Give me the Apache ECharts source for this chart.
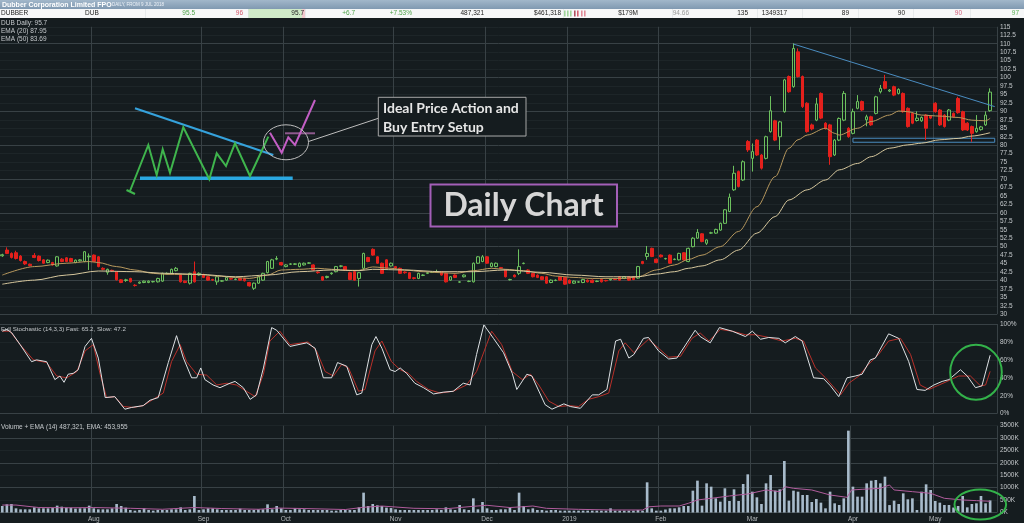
<!DOCTYPE html>
<html><head><meta charset="utf-8">
<script src="https://cdn.jsdelivr.net/npm/echarts@6/dist/echarts.min.js"></script>
<style>html,body{margin:0;padding:0;background:#151c1f;}#c{width:1024px;height:523px;}</style>
</head><body><div id="c"></div>
<script>
// ---------- data ----------
const monthLabels = ['Jul','Aug','Sep','Oct','Nov','Dec','2019','Feb','Mar','Apr','May'];
const monthBars   = [20,24,18,24,20,18,20,20,22,18,14];

// [open, close, low, high]
const candles = [
[47.3,47.6,47.0,47.9],[49.0,48.0,47.8,49.8],[48.0,46.8,46.5,48.3],[48.2,46.5,46.2,48.8],[47.2,45.9,45.6,47.5],
[45.6,44.9,44.6,45.9],[44.8,44.4,44.2,45.0],[47.4,46.8,46.6,48.1],[47.2,45.9,45.6,47.4],[46.1,45.1,44.9,46.3],
[45.3,46.0,45.1,46.2],[45.3,44.6,44.4,45.5],[44.3,47.0,44.1,47.2],[46.3,45.6,45.4,46.6],[46.7,45.6,45.4,46.9],
[46.5,45.6,45.4,46.7],[45.3,46.0,45.1,46.2],[45.8,46.1,45.6,46.3],[45.6,48.5,45.4,48.7],[47.0,47.2,43.1,48.0],
[47.5,45.6,45.4,47.7],[47.0,44.1,43.9,47.2],[43.6,43.3,43.0,43.9],[42.4,43.3,41.7,43.5],[43.0,42.8,42.5,43.2],
[42.6,40.2,40.0,42.8],[40.2,39.4,39.2,40.4],[40.0,40.2,39.6,40.5],[40.6,39.6,39.4,40.8],[38.6,38.5,38.2,38.9],
[39.2,39.5,39.0,39.7],[39.4,39.8,39.2,40.0],[39.4,39.8,39.2,40.0],[39.6,39.7,39.4,39.9],[39.6,40.6,39.4,40.8],
[39.8,42.1,39.6,42.3],[42.0,42.1,41.8,42.4],[42.1,43.3,41.9,43.5],[42.9,43.6,42.7,44.0],[41.6,39.6,39.4,41.8],
[39.8,39.4,39.2,40.0],[39.2,42.1,38.8,42.3],[42.6,39.6,39.4,45.6],[41.6,42.1,41.4,42.4],[41.8,40.9,40.7,42.0],
[41.1,40.1,39.9,41.3],[40.3,40.1,39.9,40.5],[39.6,41.1,38.7,41.3],[39.8,39.9,39.6,40.1],[40.1,40.9,39.9,41.1],
[40.6,40.4,40.2,40.8],[40.3,40.4,40.1,40.6],[40.6,40.1,39.9,40.8],[40.6,39.9,39.7,40.8],[39.4,38.4,38.2,39.6],
[37.7,39.2,37.2,39.4],[39.2,41.1,39.0,41.3],[40.1,42.1,39.9,42.3],[42.3,45.6,42.1,45.8],[43.6,46.1,43.4,46.4],
[46.3,46.5,46.0,47.2],[45.3,44.6,44.4,45.5],[44.1,44.6,43.9,44.8],[44.8,44.9,44.6,45.1],[44.8,44.9,44.6,45.1],
[44.1,45.1,43.9,45.3],[44.6,45.1,44.4,45.3],[45.1,45.2,44.9,45.4],[44.6,43.1,42.9,44.8],[42.5,42.3,42.0,42.7],
[41.1,40.1,39.9,41.3],[40.9,41.2,40.6,41.4],[42.0,42.2,41.7,42.4],[42.6,44.1,42.4,44.3],[44.2,44.3,43.9,44.5],
[44.1,43.1,42.9,44.3],[42.3,40.3,40.1,42.6],[42.6,40.1,39.9,42.8],[40.6,42.3,38.2,42.5],[43.6,48.0,43.4,48.2],
[46.8,45.6,45.4,47.0],[49.2,47.5,47.3,49.5],[47.0,45.1,44.9,47.2],[45.1,42.1,41.9,45.3],[46.1,43.6,43.4,46.3],
[44.3,45.1,44.1,45.3],[44.1,43.6,43.4,44.3],[43.6,42.1,41.9,43.8],[42.5,42.3,42.0,42.7],[42.3,40.6,40.4,42.5],
[40.8,40.6,40.3,41.0],[40.6,42.1,40.4,42.3],[41.5,41.6,41.3,41.8],[42.1,42.3,41.9,42.5],[42.4,42.5,42.2,42.7],
[42.5,42.6,42.3,43.2],[42.6,41.6,41.4,42.8],[42.1,39.6,39.4,42.3],[40.1,41.1,39.9,41.3],[41.6,40.9,40.7,41.8],
[39.5,39.6,39.3,39.8],[41.1,41.6,40.9,41.8],[39.7,39.8,39.5,40.0],[39.6,45.1,39.4,45.3],[45.1,47.0,44.9,47.2],
[45.6,47.0,45.4,47.5],[47.0,45.1,44.9,47.2],[44.1,45.1,43.9,45.3],[44.1,45.1,43.9,45.3],[43.8,43.6,43.4,44.0],
[43.1,41.1,40.9,43.3],[40.2,40.3,40.0,40.5],[41.6,41.1,40.9,41.8],[42.1,44.1,41.6,49.2],[45.0,45.1,44.8,45.3],
[43.1,42.1,41.9,43.3],[42.1,41.1,40.9,42.3],[41.6,40.9,40.7,41.8],[41.1,40.3,40.1,41.3],[41.1,39.2,39.0,41.3],
[39.4,40.1,39.2,40.3],[40.0,40.1,39.8,40.3],[41.1,40.1,39.9,41.3],[40.9,38.9,38.7,41.1],[40.1,39.2,39.0,40.3],
[39.2,39.8,39.0,40.0],[39.5,39.6,39.3,39.8],[39.4,40.3,39.2,40.5],[40.1,39.6,39.4,40.3],[40.1,39.4,39.2,40.3],
[39.7,39.8,39.5,40.0],[40.3,39.6,39.4,40.5],[40.0,39.9,39.7,40.2],[40.2,40.4,40.0,40.6],[40.5,40.3,40.1,40.7],
[41.1,40.1,39.9,41.3],[40.6,41.1,40.4,41.3],[41.1,40.1,39.9,41.3],[41.1,40.3,40.1,41.3],[40.7,44.1,40.5,44.3],
[45.6,45.0,44.8,45.8],[47.1,48.0,46.1,50.2],[49.5,47.1,46.9,49.7],[46.3,45.3,45.1,46.5],[47.5,47.0,46.8,47.7],
[46.4,46.5,46.2,46.7],[47.5,45.1,44.9,47.7],[46.2,46.3,46.0,46.5],[46.1,48.0,45.9,48.2],[48.2,46.1,45.9,48.4],
[45.6,49.5,45.4,49.7],[50.0,52.5,49.8,52.8],[52.5,54.2,52.3,55.2],[53.8,51.5,51.3,54.0],[51.0,52.0,50.5,52.2],
[54.0,54.1,53.8,54.4],[54.0,55.1,53.8,55.3],[54.9,56.9,54.7,57.1],[56.9,60.9,56.7,61.1],[60.4,64.6,60.2,65.7],
[66.8,71.7,66.5,73.9],[72.2,67.8,67.5,72.5],[69.7,75.1,69.4,75.5],[81.1,78.6,78.0,81.5],[76.1,78.1,72.2,80.5],
[81.5,77.1,76.8,81.8],[77.1,73.2,72.8,77.4],[76.1,82.5,75.8,82.8],[84.0,90.2,83.7,94.5],[87.2,81.5,81.2,87.5],
[82.5,86.9,78.6,87.2],[89.9,99.3,89.6,99.6],[100.3,95.8,95.5,100.6],[97.3,108.6,97.0,110.1],[107.6,100.3,100.0,108.6],
[100.3,91.4,91.0,100.6],[92.4,84.0,83.7,92.7],[86.0,84.8,84.4,86.4],[87.4,92.2,87.1,94.0],[95.3,88.0,87.7,95.6],
[86.5,85.0,84.6,86.8],[86.0,76.6,74.2,86.3],[77.1,81.5,76.8,81.8],[81.5,87.9,81.2,88.2],[87.4,95.3,87.1,96.0],
[85.0,82.5,82.2,85.3],[83.5,89.9,83.2,90.8],[90.9,92.9,90.6,94.8],[92.9,90.4,90.1,93.2],[87.5,88.4,85.6,89.0],
[88.4,86.0,85.7,88.7],[89.4,94.3,89.1,94.6],[95.8,96.8,95.3,97.8],[98.8,96.8,96.5,100.8],[96.0,96.3,95.7,96.6],
[97.3,94.8,94.5,97.6],[95.3,96.5,95.0,96.8],[95.3,89.9,89.6,95.6],[90.9,85.5,85.2,91.2],[89.4,86.5,86.2,89.7],
[87.3,88.0,87.0,90.0],[87.2,88.2,86.9,88.5],[88.9,85.0,81.5,89.2],[88.6,88.0,87.7,88.9],[92.4,89.9,89.6,92.7],
[90.4,86.0,85.7,90.7],[88.9,85.5,85.2,89.2],[87.4,90.4,87.1,90.7],[89.4,88.4,88.1,89.7],[93.8,89.6,89.3,94.3],
[89.9,84.5,84.2,90.2],[86.5,84.5,84.2,86.8],[85.5,83.5,81.0,85.8],[84.0,85.0,83.7,88.9],[84.6,85.4,84.3,85.7],
[86.0,88.9,85.7,90.0],[90.2,95.7,89.9,96.8]
];

// [bar index, value]
const ema20 = [[0,41.6],[7,44.1],[14,45.1],[19,45.6],[21,45.3],[25,44.1],[29,43.1],[33,42.1],[36,41.8],[43,41.8],[47,41.3],[51,40.9],[54,40.6],[58,41.6],[61,43.1],[65,43.3],[69,43.6],[72,43.3],[76,43.0],[78,43.0],[81,44.0],[85,43.6],[88,43.1],[92,42.6],[96,42.3],[99,42.1],[103,42.9],[107,43.6],[110,43.3],[114,42.9],[118,42.1],[121,41.3],[125,40.9],[129,40.6],[132,40.6],[136,40.6],[139,41.1],[143,43.1],[147,44.6],[150,46.2],[153,47.5],[157,50.0],[161,54.5],[165,61.8],[169,70.7],[172,79.1],[174,81.6],[176,83.0],[180,85.0],[182,83.5],[183,83.0],[187,85.0],[190,87.0],[194,88.9],[196,90.1],[198,89.9],[201,88.9],[205,88.6],[209,88.2],[212,87.4],[215,87.2],[216,87.95]];
const ema50 = [[0,38.9],[7,40.1],[14,41.6],[21,42.8],[29,42.6],[36,42.1],[43,41.8],[51,41.1],[58,41.6],[65,42.6],[72,43.1],[78,42.9],[81,43.3],[88,43.1],[96,42.6],[103,42.6],[110,43.1],[118,42.4],[125,41.6],[132,41.1],[139,41.1],[143,41.9],[147,42.6],[150,43.6],[153,44.3],[157,46.1],[161,49.0],[165,54.0],[169,58.9],[172,63.8],[176,66.8],[180,69.7],[183,72.7],[187,74.6],[190,76.6],[194,79.1],[198,80.1],[201,80.6],[205,81.6],[209,82.0],[212,82.7],[216,83.69]];

const stochFast = [[0,92],[1,94],[2.1,90],[3.9,77],[6.4,58],[7.5,60],[9.7,58],[11.5,38],[12.6,42],[13.5,35],[14.4,44],[15.5,45],[16.6,49],[18.1,75],[19.5,84],[21,62],[22.5,18],[24.6,19],[26.8,5],[28.3,7],[30.8,9],[32.3,15],[34.1,18],[36.3,57],[38.1,87],[39.6,62],[41.4,40],[42.5,40],[43.4,51],[44.3,38],[46.1,32],[47.6,29],[49.8,34],[50.9,36],[52.7,29],[54.2,16],[55.6,21],[57.1,51],[58.9,96],[60,93],[62.9,75],[66.6,79],[68.4,73],[70.2,40],[72,40],[73.3,57],[75.3,53],[77.5,21],[78.6,23],[80.8,77],[81.7,86],[83,73],[84.8,49],[85.9,47],[87,51],[88.4,45],[90.2,34],[92.1,29],[94.3,22],[96.4,24],[98.6,25],[100.8,34],[102.3,32],[103.7,66],[105.3,99],[107.4,84],[109.6,68],[111.5,45],[112.5,27],[114.7,44],[115.8,42],[118.7,10],[120.2,5],[122.8,11],[124.2,8],[126.4,6],[129,21],[130.4,21],[132.2,27],[134.1,81],[135.2,83],[137,62],[138.1,66],[140.2,84],[141.3,85],[143.5,70],[145.7,61],[147.5,62],[149.7,79],[151.5,93],[152.6,86],[154.8,79],[156.8,96],[159.6,92],[162.5,86],[164,92],[165.8,83],[167.6,85],[169.8,84],[171.2,79],[173.4,86],[174.9,81],[177.4,40],[179.6,39],[181.1,31],[182.9,19],[184.7,40],[186.5,42],[188,44],[189.8,60],[190.9,62],[193.8,89],[196,84],[198.2,58],[200,27],[201.8,26],[203.7,32],[205.5,36],[207,38],[209.5,49],[211,42],[212.8,29],[214.2,31],[216,65.2]];
const stochSlow = [[0,92],[1.7,92],[3.9,77],[6.8,60],[9.7,57],[11.9,42],[14.1,40],[16.3,47],[18.1,70],[19.9,77],[21.4,44],[22.8,18],[24.6,19],[26.5,8],[28.7,7],[30.8,9],[33,16],[35.2,23],[37,58],[38.9,77],[40.3,58],[42.5,44],[44.7,43],[46.9,32],[49.1,34],[51.2,32],[53.4,25],[55.3,19],[57.1,44],[58.5,81],[60.7,92],[62.9,77],[66.9,80],[68.7,70],[70.6,47],[72.4,42],[74.2,55],[75.7,51],[77.9,25],[79.3,27],[81.5,70],[83,81],[85.1,58],[87,49],[88.8,45],[90.6,36],[93.2,27],[95.7,23],[98.6,25],[101.5,32],[103.7,47],[105.9,77],[107,92],[109.2,77],[111.5,47],[113.7,38],[115.5,44],[117.3,32],[119.5,14],[121.7,8],[123.9,9],[126,8],[128.2,16],[130.4,19],[132.6,23],[134.8,70],[136.2,79],[138.1,68],[141.3,83],[143.5,73],[145.7,63],[148.3,64],[150.8,84],[152.6,90],[154.5,81],[157,94],[159.6,92],[162.5,88],[164.7,88],[167.6,85],[170.5,81],[173.4,84],[175.2,81],[177.8,51],[180,40],[181.4,32],[183.3,21],[185.1,34],[187.3,42],[189.4,55],[191.6,66],[193.8,81],[196.4,84],[198.6,66],[200.7,32],[202.6,27],[204.4,31],[206.6,36],[209.1,42],[211.7,42],[213.9,31],[215,32],[216,47.2]];

// volume in thousands, one per bar
const volumeK = [
262,330,343,168,128,128,128,208,168,168, 168,180,276,235,195,195,155,168,168,276,
168,128,128,128,168,343,262,195,101,74, 101,168,101,74,101,101,101,128,128,208,
101,128,666,101,128,168,168,128,101,101, 101,101,155,101,101,101,128,128,330,128,
262,168,101,101,168,128,128,101,101,101, 101,101,74,74,101,101,101,101,208,800,
262,343,289,262,195,180,128,101,101,101, 101,101,101,101,101,128,101,208,128,101,
302,128,101,572,128,424,168,101,101,128, 128,190,101,800,262,128,168,101,101,74,
101,101,74,74,74,74,74,74,74,74, 74,74,74,168,74,74,74,74,74,101,
74,1217,168,74,74,120,168,168,208,262, 262,881,1284,276,1176,1042,572,437,975,464,
935,464,1150,1539,840,612,343,1176,1512,881, 935,2077,478,881,840,706,706,424,545,397,
168,840,370,302,572,3300,1042,639,639,1176, 1284,1311,1176,1445,300,478,343,773,531,572,
101,840,1136,908,464,397,302,302,200,262, 666,208,343,370,666,370,487
];
const volumeEmaK = [[0,300],[3,300],[8,200],[15,190],[20,200],[28,170],[35,130],[42,200],[48,160],[56,130],[60,180],[66,160],[75,120],[79,210],[83,260],[90,170],[97,150],[103,250],[106,290],[111,200],[114,235],[116,262],[119,168],[126,128],[133,101],[140,101],[141.4,230],[144,262],[148,262],[150,370],[152,505],[155,572],[159,666],[163,746],[167,908],[170,840],[171.2,1042],[173,975],[177,908],[181,706],[184.7,612],[185.7,908],[188,935],[192,975],[194,1109],[195,908],[199,840],[203,773],[206,572],[210,505],[213,478],[216,454]];

// ---------- build ----------
const categories = [];
const monthStart = new Set();
monthLabels.forEach((m, k) => {
  for (let d = 0; d < monthBars[k]; d++) {
    if (d === 0 && k > 0) monthStart.add(categories.length);
    categories.push(m + '-' + d);
  }
});
const N = categories.length;

const BG = '#151c1f';
const MAJ = '#384145';
const MIN = '#1d2528';
const LBL = '#c4c8cb';
const FONT = '"Liberation Sans", Arial, sans-serif';

const grids = [
  {left:0, right:27, top:26.8, height:287.5},
  {left:0, right:27, top:324, height:89.7},
  {left:0, right:27, top:425.7, height:86.8}
];
const xAxes = [];
grids.forEach((g, gi) => {
  xAxes.push({
    type:'category', gridIndex:gi, data:categories, boundaryGap:true,
    axisLine:{show:false}, axisTick:{show:false},
    splitLine:{show:true, interval:(i)=>monthStart.has(i), lineStyle:{color:MAJ, width:1}},
    axisLabel: gi===2 ? {show:true, interval:(i)=>monthStart.has(i), formatter:(v)=>v.split('-')[0],
      color:'#b3b7ba', fontSize:6.5, fontFamily:FONT, margin:3} : {show:false}
  });
  xAxes.push({type:'value', gridIndex:gi, min:-0.5, max:N-0.5, show:false});
});

function yAx(gi, min, max, interval, fmt, colors) {
  return {type:'value', gridIndex:gi, position:'right', min, max, interval,
    axisLine:{show:false}, axisTick:{show:false},
    axisLabel:{color:LBL, fontSize:6.5, fontFamily:FONT, margin:3, align:'left', formatter:fmt},
    splitLine:{show:true, lineStyle:{color:colors, width:1}}};
}
const yAxes = [
  yAx(0, 30, 115, 2.5, (v)=>String(v), [MAJ, MIN, MIN, MIN]),
  yAx(1, 0, 100, 20, (v)=>v+'%', [MAJ, MIN, MIN, MIN, MIN, MAJ]),
  yAx(2, 0, 3500, 500, (v)=>v+'K', [MAJ, MIN])
];

const cat = (i) => categories[i];

const series = [
  {type:'candlestick', xAxisIndex:0, yAxisIndex:0, data:candles, barWidth:'68%',
   itemStyle:{color:'rgba(0,0,0,0)', color0:'#e4201c', borderColor:'#6cc15e', borderColor0:'#e4201c', borderWidth:1},
   markLine:{silent:true, symbol:['none','none'], label:{show:false},
     lineStyle:{color:'#4a8cc0', width:1, type:'solid'},
     data:[[{coord:[cat(173),109.9]},{coord:[cat(217),91.4]}]]},
   markArea:{silent:true, itemStyle:{color:'rgba(0,0,0,0)', borderColor:'#4a8cc0', borderWidth:1},
     data:[[{coord:[cat(186),82.05]},{coord:[cat(217),80.87]}]]}
  },
  {type:'line', xAxisIndex:1, yAxisIndex:0, data:ema20, showSymbol:false, smooth:0.3, smoothMonotone:'x',
   lineStyle:{color:'#b8995e', width:1}},
  {type:'line', xAxisIndex:1, yAxisIndex:0, data:ema50, showSymbol:false, smooth:0.3, smoothMonotone:'x',
   lineStyle:{color:'#d6c79d', width:1}},
  {type:'line', xAxisIndex:3, yAxisIndex:1, data:stochSlow, showSymbol:false,
   lineStyle:{color:'#b8302a', width:1}},
  {type:'line', xAxisIndex:3, yAxisIndex:1, data:stochFast, showSymbol:false,
   lineStyle:{color:'#dde1e4', width:1}},
  {type:'bar', xAxisIndex:4, yAxisIndex:2, data:volumeK, barWidth:'58%', itemStyle:{color:'#a8bbcb'}},
  {type:'line', xAxisIndex:5, yAxisIndex:2, data:volumeEmaK, showSymbol:false,
   lineStyle:{color:'#b05c9c', width:1}}
];

// ---------- overlay graphics (header, legends, hand-drawn annotations) ----------
const g = [];
const txt = (x, y, text, fill, font, align) => ({type:'text', x, y, z:10,
  style:{text, fill, font, textAlign:align||'left', textVerticalAlign:'middle', verticalAlign:'middle'}});
const line = (pts, stroke, w) => ({type:'polyline', z:10, shape:{points:pts}, style:{stroke, lineWidth:w, fill:null}});

// header
g.push({type:'rect', z:9, shape:{x:0,y:0,width:1024,height:9},
  style:{fill:new echarts.graphic.LinearGradient(0,0,0,1,[{offset:0,color:'#a2b7ca'},{offset:1,color:'#8099b1'}])}});
g.push(txt(2, 4.6, 'Dubber Corporation Limited FPO', '#ffffff', 'bold 7px '+FONT));
g.push(txt(112, 5, 'DAILY, FROM 9 JUL 2018', '#eef3f8', '4.5px '+FONT));
g.push({type:'rect', z:9, shape:{x:0,y:9,width:1024,height:9}, style:{fill:'#f6f7f8'}});
g.push({type:'rect', z:9, shape:{x:248,y:9,width:54,height:9}, style:{fill:'#cfeac8'}});
g.push({type:'rect', z:9, shape:{x:302,y:9,width:3,height:9}, style:{fill:'#f2c9cf'}});
[145,248,305,563,672,757,802,858,913,970].forEach(x => g.push({type:'rect', z:9, shape:{x:x,y:9,width:0.6,height:9}, style:{fill:'#dcdfe2'}}));
const hf = '6.5px '+FONT;
g.push(txt(1, 13.6, 'DUBBER', '#222', hf));
g.push(txt(85, 13.6, 'DUB', '#222', hf));
g.push(txt(195, 13.6, '95.5', '#4ea24a', hf, 'right'));
g.push(txt(243, 13.6, '96', '#d2566a', hf, 'right'));
g.push(txt(304, 13.6, '95.7', '#222', hf, 'right'));
g.push(txt(355, 13.6, '+6.7', '#4ea24a', hf, 'right'));
g.push(txt(412, 13.6, '+7.53%', '#4ea24a', hf, 'right'));
g.push(txt(484, 13.6, '487,321', '#222', hf, 'right'));
g.push(txt(561, 13.6, '$461,318', '#222', hf, 'right'));
[[564,'#9fd49a'],[567,'#9fd49a'],[570,'#9fd49a'],[574,'#b05060'],[577,'#d46070'],[581,'#e08a98'],[584,'#e08a98']].forEach(([x,c]) =>
  g.push({type:'rect', z:10, shape:{x:x,y:10.5,width:1.6,height:6}, style:{fill:c}}));
g.push(txt(638, 13.6, '$179M', '#222', hf, 'right'));
g.push(txt(689, 13.6, '94.66', '#9a9a9a', hf, 'right'));
g.push(txt(748, 13.6, '135', '#222', hf, 'right'));
g.push(txt(787, 13.6, '1349317', '#222', hf, 'right'));
g.push(txt(849, 13.6, '89', '#222', hf, 'right'));
g.push(txt(905, 13.6, '90', '#222', hf, 'right'));
g.push(txt(962, 13.6, '90', '#d2607e', hf, 'right'));
g.push(txt(1019, 13.6, '97', '#5cb158', hf, 'right'));

// panel legends
g.push(txt(1, 23.3, 'DUB Daily: 95.7', LBL, hf));
g.push(txt(1, 31, 'EMA (20) 87.95', LBL, hf));
g.push(txt(1, 38.8, 'EMA (50) 83.69', LBL, hf));
g.push(txt(1, 329.5, 'Full Stochastic (14,3,3) Fast: 65.2, Slow: 47.2', LBL, '6.2px '+FONT));
g.push(txt(1, 427.5, 'Volume + EMA (14) 487,321, EMA: 453,955', LBL, hf));

// hand-drawn illustration
g.push(line([[135,108.3],[273.3,155]], '#35a2dc', 2.2));
g.push(line([[140,178.3],[292.7,178.3]], '#2aa8e2', 3.5));
g.push(line([[130,191],[148.3,145],[156.7,175],[162.7,149.3],[170,172.7],[183.3,127.3],[209.3,179.3],[216.7,153.3],[226,166],[235,143.3],[250,176],[268.3,136.7]], '#3fb54d', 2));
g.push(line([[126.5,190],[135,194]], '#3fb54d', 2));
g.push(line([[285,133.3],[315,133.3]], '#8e5a8e', 2));
g.push(line([[270,132.7],[281.7,152.7],[288.3,137.3],[295,145],[315,100]], '#c25ec4', 2));
g.push({type:'ellipse', z:10, shape:{cx:286,cy:142.3,rx:22.5,ry:17.5}, style:{stroke:'#bdbdbd', lineWidth:1, fill:null}});
g.push(line([[308.5,141.5],[378.3,118.3]], '#bdbdbd', 1));
g.push({type:'rect', z:10, shape:{x:378.3,y:97.3,width:147.7,height:38.7}, style:{stroke:'#a6a6a6', lineWidth:1, fill:BG}});
g.push(txt(383, 108.3, 'Ideal Price Action and', '#e6e6e6', 'bold 14px Lato, sans-serif'));
g.push(txt(383, 127.3, 'Buy Entry Setup', '#e6e6e6', 'bold 14px Lato, sans-serif'));

// title box
g.push({type:'rect', z:10, shape:{x:430.5,y:184.5,width:186.5,height:42}, style:{stroke:'#a35fb8', lineWidth:2, fill:BG}});
g.push(txt(523.5, 205.5, 'Daily Chart', '#d6d6d6', 'bold 32px Lato, sans-serif', 'center'));

// green circles
g.push({type:'ellipse', z:10, shape:{cx:976,cy:372.3,rx:25.8,ry:27.5}, style:{stroke:'#33b24a', lineWidth:2, fill:null}});
g.push({type:'ellipse', z:10, shape:{cx:980.3,cy:504.5,rx:25.8,ry:15}, style:{stroke:'#33b24a', lineWidth:2, fill:null}});

const chart = echarts.init(document.getElementById('c'), null, {renderer:'canvas'});
chart.setOption({
  backgroundColor: BG,
  animation:false,
  grid: grids,
  xAxis: xAxes,
  yAxis: yAxes,
  series: series,
  graphic: g
});
</script>
</body></html>
